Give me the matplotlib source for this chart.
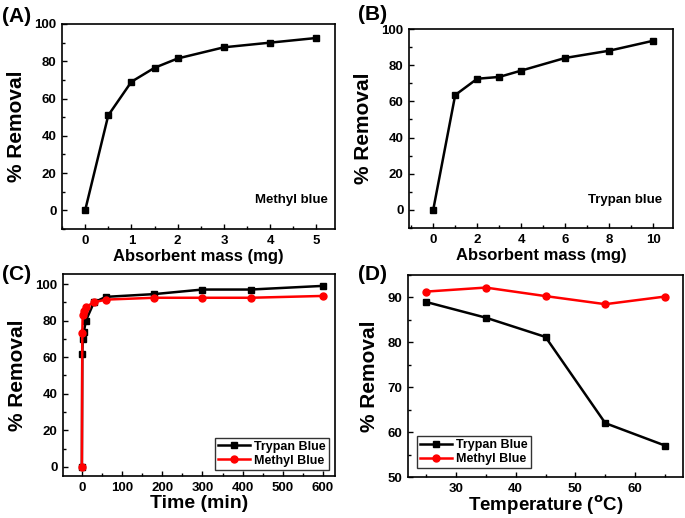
import matplotlib.pyplot as plt
from matplotlib.ticker import AutoMinorLocator

plt.rcParams['font.family'] = ['Liberation Sans', 'DejaVu Sans']
plt.rcParams['font.weight'] = 'bold'
plt.rcParams['mathtext.default'] = 'bf'

# (A) methyl blue vs absorbent mass
mass_a = [0, 0.5, 1, 1.5, 2, 3, 4, 5]
rem_a = [0, 51, 69, 76.5, 81.5, 87.5, 90, 92.5]

# (B) trypan blue vs absorbent mass
mass_b = [0, 1, 2, 3, 4, 6, 8, 10]
rem_b = [0, 63.5, 72.5, 73.5, 77, 84, 88, 93.5]

# (C) removal vs time
time_c = [0, 1, 2, 5, 10, 30, 60, 180, 300, 420, 600]
tb_c = [0, 62, 70, 74, 80, 90, 93, 94.5, 97, 97, 99]
mb_c = [0, 73, 83, 85.5, 87.5, 90, 91.5, 92.5, 92.5, 92.5, 93.5]

# (D) removal vs temperature
temp_d = [25, 35, 45, 55, 65]
tb_d = [89, 85.5, 81.2, 62, 57]
mb_d = [91.3, 92.2, 90.3, 88.5, 90.2]

fig = plt.figure(figsize=(6.85, 5.18), dpi=100)
W, H = 685, 518

def make_ax(l, t, r, b):
    return fig.add_axes([l / W, 1 - b / H, (r - l) / W, (b - t) / H])

def style(ax):
    ax.tick_params(direction='in', which='both', labelsize=9.5, width=1, top=False, right=False)
    ax.tick_params(which='major', length=3.5, pad=4)
    ax.tick_params(which='minor', length=2)
    ax.xaxis.set_minor_locator(AutoMinorLocator(2))
    ax.yaxis.set_minor_locator(AutoMinorLocator(2))
    for s in ax.spines.values():
        s.set_linewidth(1.2)
    for lab in ax.get_xticklabels() + ax.get_yticklabels():
        lab.set_fontweight('bold')

leg_kw = dict(frameon=True, fancybox=False, edgecolor='black', borderpad=0.25,
              handlelength=2.6, handletextpad=0.3, labelspacing=0.15,
              prop={'weight': 'bold', 'size': 9})

axA = make_ax(62, 24, 335, 229)
axA.plot(mass_a, rem_a, color='black', marker='s', markersize=5, linewidth=1.8)
axA.set_xlim(-0.5, 5.4)
axA.set_ylim(-10, 100)
axA.set_xticks([0, 1, 2, 3, 4, 5])
axA.set_yticks([0, 20, 40, 60, 80, 100])
axA.set_xlabel('Absorbent mass (mg)', fontsize=12, fontweight='bold', labelpad=2)
axA.set_ylabel('% Removal', fontsize=15, fontweight='bold', labelpad=6)
axA.text(0.975, 0.14, 'Methyl blue', transform=axA.transAxes, ha='right', va='center',
         fontsize=9.5, fontweight='bold')
style(axA)
fig.text(2 / W, 1 - 16 / H, '(A)', fontsize=15, fontweight='bold', va='center')

axB = make_ax(409, 29, 673, 228)
axB.plot(mass_b, rem_b, color='black', marker='s', markersize=5, linewidth=1.8)
axB.set_xlim(-1.1, 10.9)
axB.set_ylim(-10, 100)
axB.set_xticks([0, 2, 4, 6, 8, 10])
axB.set_yticks([0, 20, 40, 60, 80, 100])
axB.set_xlabel('Absorbent mass (mg)', fontsize=12, fontweight='bold', labelpad=2)
axB.set_ylabel('% Removal', fontsize=15, fontweight='bold', labelpad=6)
axB.text(0.96, 0.14, 'Trypan blue', transform=axB.transAxes, ha='right', va='center',
         fontsize=9.5, fontweight='bold')
style(axB)
fig.text(358 / W, 1 - 14 / H, '(B)', fontsize=15, fontweight='bold', va='center')

axC = make_ax(63, 274, 335, 476)
axC.plot(time_c, tb_c, color='black', marker='s', markersize=5, linewidth=1.8, label='Trypan Blue')
axC.plot(time_c, mb_c, color='red', marker='o', markersize=5, linewidth=1.8, label='Methyl Blue')
axC.set_xlim(-47, 630)
axC.set_ylim(-5, 105.5)
axC.set_xticks([0, 100, 200, 300, 400, 500, 600])
axC.set_yticks([0, 20, 40, 60, 80, 100])
axC.set_xlabel('Time (min)', fontsize=14, fontweight='bold', labelpad=1)
axC.set_ylabel('% Removal', fontsize=15, fontweight='bold', labelpad=6)
axC.legend(loc='lower right', borderaxespad=0.5, **leg_kw)
style(axC)
fig.text(2 / W, 1 - 275 / H, '(C)', fontsize=15, fontweight='bold', va='center')

axD = make_ax(408, 275, 683, 477)
axD.plot(temp_d, tb_d, color='black', marker='s', markersize=5, linewidth=1.8, label='Trypan Blue')
axD.plot(temp_d, mb_d, color='red', marker='o', markersize=5, linewidth=1.8, label='Methyl Blue')
axD.set_xlim(22, 68)
axD.set_ylim(50, 95)
axD.set_xticks([30, 40, 50, 60])
axD.set_yticks([50, 60, 70, 80, 90])
axD.set_xlabel('Temperature ($^{o}$C)', fontsize=13.5, fontweight='bold', labelpad=-1)
axD.set_ylabel('% Removal', fontsize=15, fontweight='bold', labelpad=6)
axD.legend(loc='lower left', borderaxespad=0.7, **leg_kw)
style(axD)
fig.text(358 / W, 1 - 275 / H, '(D)', fontsize=15, fontweight='bold', va='center')

fig.savefig('out.png', dpi=100)
